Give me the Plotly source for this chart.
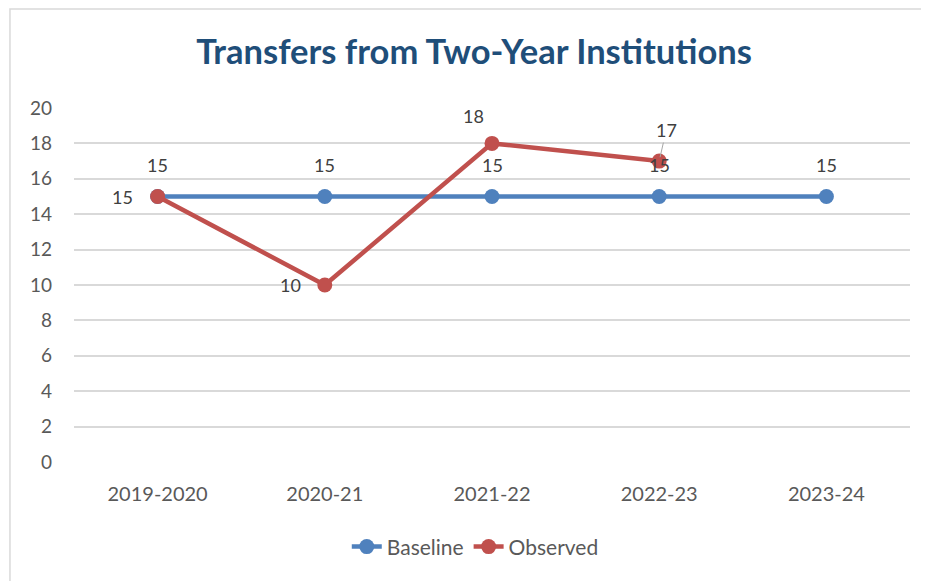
import plotly.graph_objects as go

years = ['2019-2020', '2020-21', '2021-22', '2022-23', '2023-24']
baseline = [15, 15, 15, 15, 15]
observed = [15, 10, 18, 17]
y_ticks = list(range(0, 21, 2))

# label offsets in px (style only)
base_shift = [(0, 32)] * 5
obs_shift = [(-35, 0), (-34, 0), (-19, 27), (7, 31)]

BLUE = '#4F81BD'
RED = '#C0504D'
FONT = 'Lato, Open Sans, sans-serif'
LABEL_FONT = dict(size=18, color='#404040', family=FONT)

fig = go.Figure()
fig.add_trace(go.Scatter(
    x=years, y=baseline, name='Baseline', mode='lines+markers',
    line=dict(color=BLUE, width=4.5), marker=dict(color=BLUE, size=15),
    cliponaxis=False, hoverinfo='skip',
))
fig.add_trace(go.Scatter(
    x=years[:len(observed)], y=observed, name='Observed', mode='lines+markers',
    line=dict(color=RED, width=4.5), marker=dict(color=RED, size=15),
    cliponaxis=False, hoverinfo='skip',
))

for x, v, (dx, dy) in zip(years, baseline, base_shift):
    fig.add_annotation(x=x, y=v, text=str(v), showarrow=False,
                       xshift=dx, yshift=dy, font=LABEL_FONT)
for i, (x, v, (dx, dy)) in enumerate(zip(years, observed, obs_shift)):
    if i == 3:
        # moved label with a leader line
        fig.add_annotation(x=x, y=v, text=str(v), showarrow=True,
                           arrowhead=0, arrowwidth=1, arrowcolor='#A6A6A6',
                           ax=dx, ay=-dy, standoff=4, font=LABEL_FONT)
    else:
        fig.add_annotation(x=x, y=v, text=str(v), showarrow=False,
                           xshift=dx, yshift=dy, font=LABEL_FONT)

# chart frame (only left/top edges fall inside the window)
fig.add_shape(type='rect', xref='paper', yref='paper',
              x0=-0.0766, x1=1.2, y0=-0.5, y1=1.2797,
              line=dict(color='#D9D9D9', width=1.5), layer='below')

fig.update_layout(
    width=921, height=573,
    margin=dict(l=66, r=19, t=100, b=119),
    paper_bgcolor='white', plot_bgcolor='white',
    font=dict(family=FONT, color='#595959', size=20),
    title=dict(text='<b>Transfers from Two-Year Institutions</b>',
               x=0.506, xanchor='center', y=0.923, yanchor='middle',
               font=dict(size=34.5, color='#1F4E79', family=FONT)),
    xaxis=dict(type='category', range=[-0.5, 4.5], showgrid=False,
               showline=False, zeroline=False, ticks='',
               ticklabelstandoff=18, tickfont=dict(size=20, color='#595959')),
    yaxis=dict(range=[0, 20], tickvals=y_ticks, showgrid=True,
               gridcolor='#D9D9D9', gridwidth=1.5, zeroline=False,
               showline=False, ticks='', ticklabelstandoff=21,
               tickfont=dict(size=19, color='#595959')),
    legend=dict(orientation='h', x=0.48, xanchor='center', y=-0.24,
                yanchor='middle', font=dict(size=21, color='#595959')),
    showlegend=True,
)

fig.write_html('out.html')
